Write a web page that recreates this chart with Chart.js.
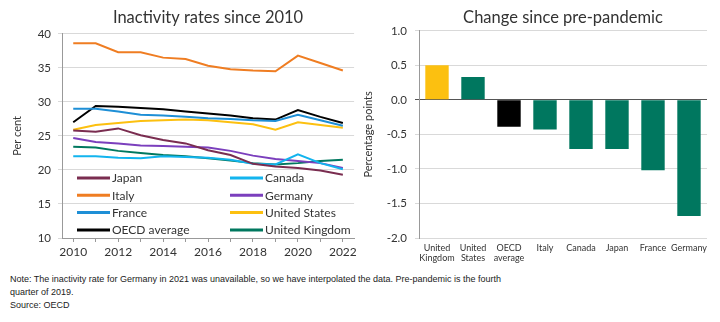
<!DOCTYPE html>
<html>
<head>
<meta charset="utf-8">
<script src="https://cdn.jsdelivr.net/npm/chart.js@4"></script>
<style>
  body { margin: 0; background: #fff; width: 720px; height: 322px; overflow: hidden; }
  .row { display: flex; }
  canvas { display: block; }
  .notes { font-family: "Liberation Sans", Arial, sans-serif; font-size: 9px; line-height: 13px; color: #222; padding: 5px 0 0 10px; width: 500px; }
</style>
</head>
<body>
<div class="row">
  <canvas id="rates" width="360" height="268"></canvas>
  <canvas id="change" width="360" height="268"></canvas>
</div>
<div class="notes">
  Note: The inactivity rate for Germany in 2021 was unavailable, so we have interpolated the data. Pre-pandemic is the fourth quarter of 2019.<br>
  Source: OECD
</div>
<script>
// ---------- inactivity rates, per cent ----------
const years = ['2010', '2011', '2012', '2013', '2014', '2015', '2016', '2017', '2018', '2019', '2020', '2021', '2022'];
const japan   = [25.8, 25.6, 26.1, 25.1, 24.4, 23.9, 22.9, 22.2, 20.9, 20.5, 20.3, 19.9, 19.3];
const canada  = [22.0, 22.0, 21.8, 21.7, 22.0, 21.9, 21.8, 21.5, 20.9, 20.8, 22.3, 21.0, 20.1];
const italy   = [38.6, 38.6, 37.3, 37.3, 36.5, 36.3, 35.3, 34.8, 34.6, 34.5, 36.8, 35.7, 34.6];
const germany = [24.7, 24.1, 23.9, 23.6, 23.5, 23.4, 23.3, 22.8, 22.1, 21.6, 21.3, 21.0, 20.3];
const france  = [29.0, 29.0, 28.6, 28.1, 28.0, 27.8, 27.6, 27.5, 27.3, 27.2, 28.1, 27.3, 26.5];
const usa     = [25.9, 26.6, 26.9, 27.2, 27.3, 27.4, 27.3, 27.0, 26.7, 25.9, 27.0, 26.6, 26.2];
const oecd    = [27.0, 29.4, 29.3, 29.1, 28.9, 28.6, 28.3, 28.0, 27.6, 27.4, 28.8, 27.8, 26.9];
const uk      = [23.4, 23.3, 22.8, 22.5, 22.2, 22.0, 21.7, 21.4, 21.0, 20.8, 21.0, 21.3, 21.5];

// ---------- change since pre-pandemic, percentage points ----------
const countries = ['United Kingdom', 'United States', 'OECD average', 'Italy', 'Canada', 'Japan', 'France', 'Germany'];
const change = [0.50, 0.33, -0.39, -0.43, -0.71, -0.71, -1.02, -1.68];

const FONT = 'Lato, "Noto Sans", sans-serif';
const TEXT = '#333';
const GRID = '#d9d9d9';

Chart.defaults.font.family = FONT;
Chart.defaults.color = TEXT;
Chart.defaults.animation = false;

function series(label, data, color) {
  return { label, data, borderColor: color, backgroundColor: color, borderWidth: 2, pointRadius: 0, tension: 0 };
}

// legend drawn inside the bottom of the plot, two columns
const insideLegend = {
  id: 'insideLegend',
  afterDatasetsDraw(chart) {
    const ctx = chart.ctx;
    const area = chart.chartArea;
    ctx.save();
    ctx.font = '12px ' + FONT;
    ctx.textBaseline = 'middle';
    chart.data.datasets.forEach((ds, i) => {
      const col = i % 2;
      const row = Math.floor(i / 2);
      const x = area.left + 15 + col * 153;
      const y = area.bottom - 60 + row * 17.3;
      ctx.strokeStyle = ds.borderColor;
      ctx.lineWidth = 3;
      ctx.beginPath();
      ctx.moveTo(x, y);
      ctx.lineTo(x + 33, y);
      ctx.stroke();
      ctx.fillStyle = TEXT;
      ctx.fillText(ds.label, x + 35, y + 0.5);
    });
    ctx.restore();
  }
};

new Chart(document.getElementById('rates').getContext('2d'), {
  type: 'line',
  data: {
    labels: years,
    datasets: [
      series('Japan', japan, '#7a2d50'),
      series('Canada', canada, '#12b4ee'),
      series('Italy', italy, '#ef7d22'),
      series('Germany', germany, '#7b3fbd'),
      series('France', france, '#1e8fd6'),
      series('United States', usa, '#fcc010'),
      series('OECD average', oecd, '#000000'),
      series('United Kingdom', uk, '#00785f'),
    ],
  },
  options: {
    responsive: false,
    layout: { padding: { right: 2, bottom: 4 } },
    plugins: {
      legend: { display: false },
      tooltip: { enabled: false },
      title: {
        display: true,
        fullSize: false,
        text: 'Inactivity rates since 2010',
        font: { size: 16.5, weight: 'normal' },
        color: TEXT,
        padding: { top: 8, bottom: 6 },
      },
    },
    scales: {
      x: {
        offset: true,
        grid: { display: true, drawOnChartArea: false, tickLength: 4, color: '#999' },
        border: { color: '#999' },
        ticks: {
          autoSkip: false,
          maxRotation: 0,
          font: { size: 12 },
          padding: 3,
          callback: (v, i) => (i % 2 === 0 ? years[i] : ''),
        },
        afterFit: (scale) => { scale.height = 26; },
      },
      y: {
        min: 10,
        max: 40,
        ticks: { stepSize: 5, font: { size: 11.5 }, padding: 7 },
        grid: { color: GRID, tickLength: 4 },
        border: { color: '#999' },
        title: { display: true, text: 'Per cent', font: { size: 11 }, padding: 11 },
        afterFit: (scale) => { scale.width = 62; },
      },
    },
  },
  plugins: [insideLegend],
});

new Chart(document.getElementById('change').getContext('2d'), {
  type: 'bar',
  data: {
    labels: countries,
    datasets: [{
      data: change,
      backgroundColor: ['#fcc010', '#00775f', '#000000', '#00775f', '#00775f', '#00775f', '#00775f', '#00775f'],
      categoryPercentage: 1,
      barPercentage: 0.65,
    }],
  },
  options: {
    responsive: false,
    layout: { padding: { right: 13 } },
    plugins: {
      legend: { display: false },
      tooltip: { enabled: false },
      title: {
        display: true,
        fullSize: false,
        text: 'Change since pre-pandemic',
        font: { size: 16.5, weight: 'normal' },
        color: TEXT,
        padding: { top: 8, bottom: 3 },
      },
    },
    scales: {
      x: {
        grid: { display: false, drawTicks: false, tickLength: 0 },
        border: { display: false },
        ticks: {
          autoSkip: false,
          maxRotation: 0,
          font: { size: 9, lineHeight: 1.15 },
          padding: 5,
          callback: (v, i) => countries[i].split(' '),
        },
        afterFit: (scale) => { scale.height = 30; },
      },
      y: {
        min: -2,
        max: 1,
        ticks: { stepSize: 0.5, font: { size: 11.5 }, padding: 8, callback: (v) => v.toFixed(1) },
        grid: {
          color: (c) => (c.tick && c.tick.value === 0 ? '#555' : GRID),
          tickLength: 4,
        },
        border: { color: '#999' },
        title: { display: true, text: 'Percentage points', font: { size: 11 }, padding: 2 },
        afterFit: (scale) => { scale.width = 59; },
      },
    },
  },
});
</script>
</body>
</html>
